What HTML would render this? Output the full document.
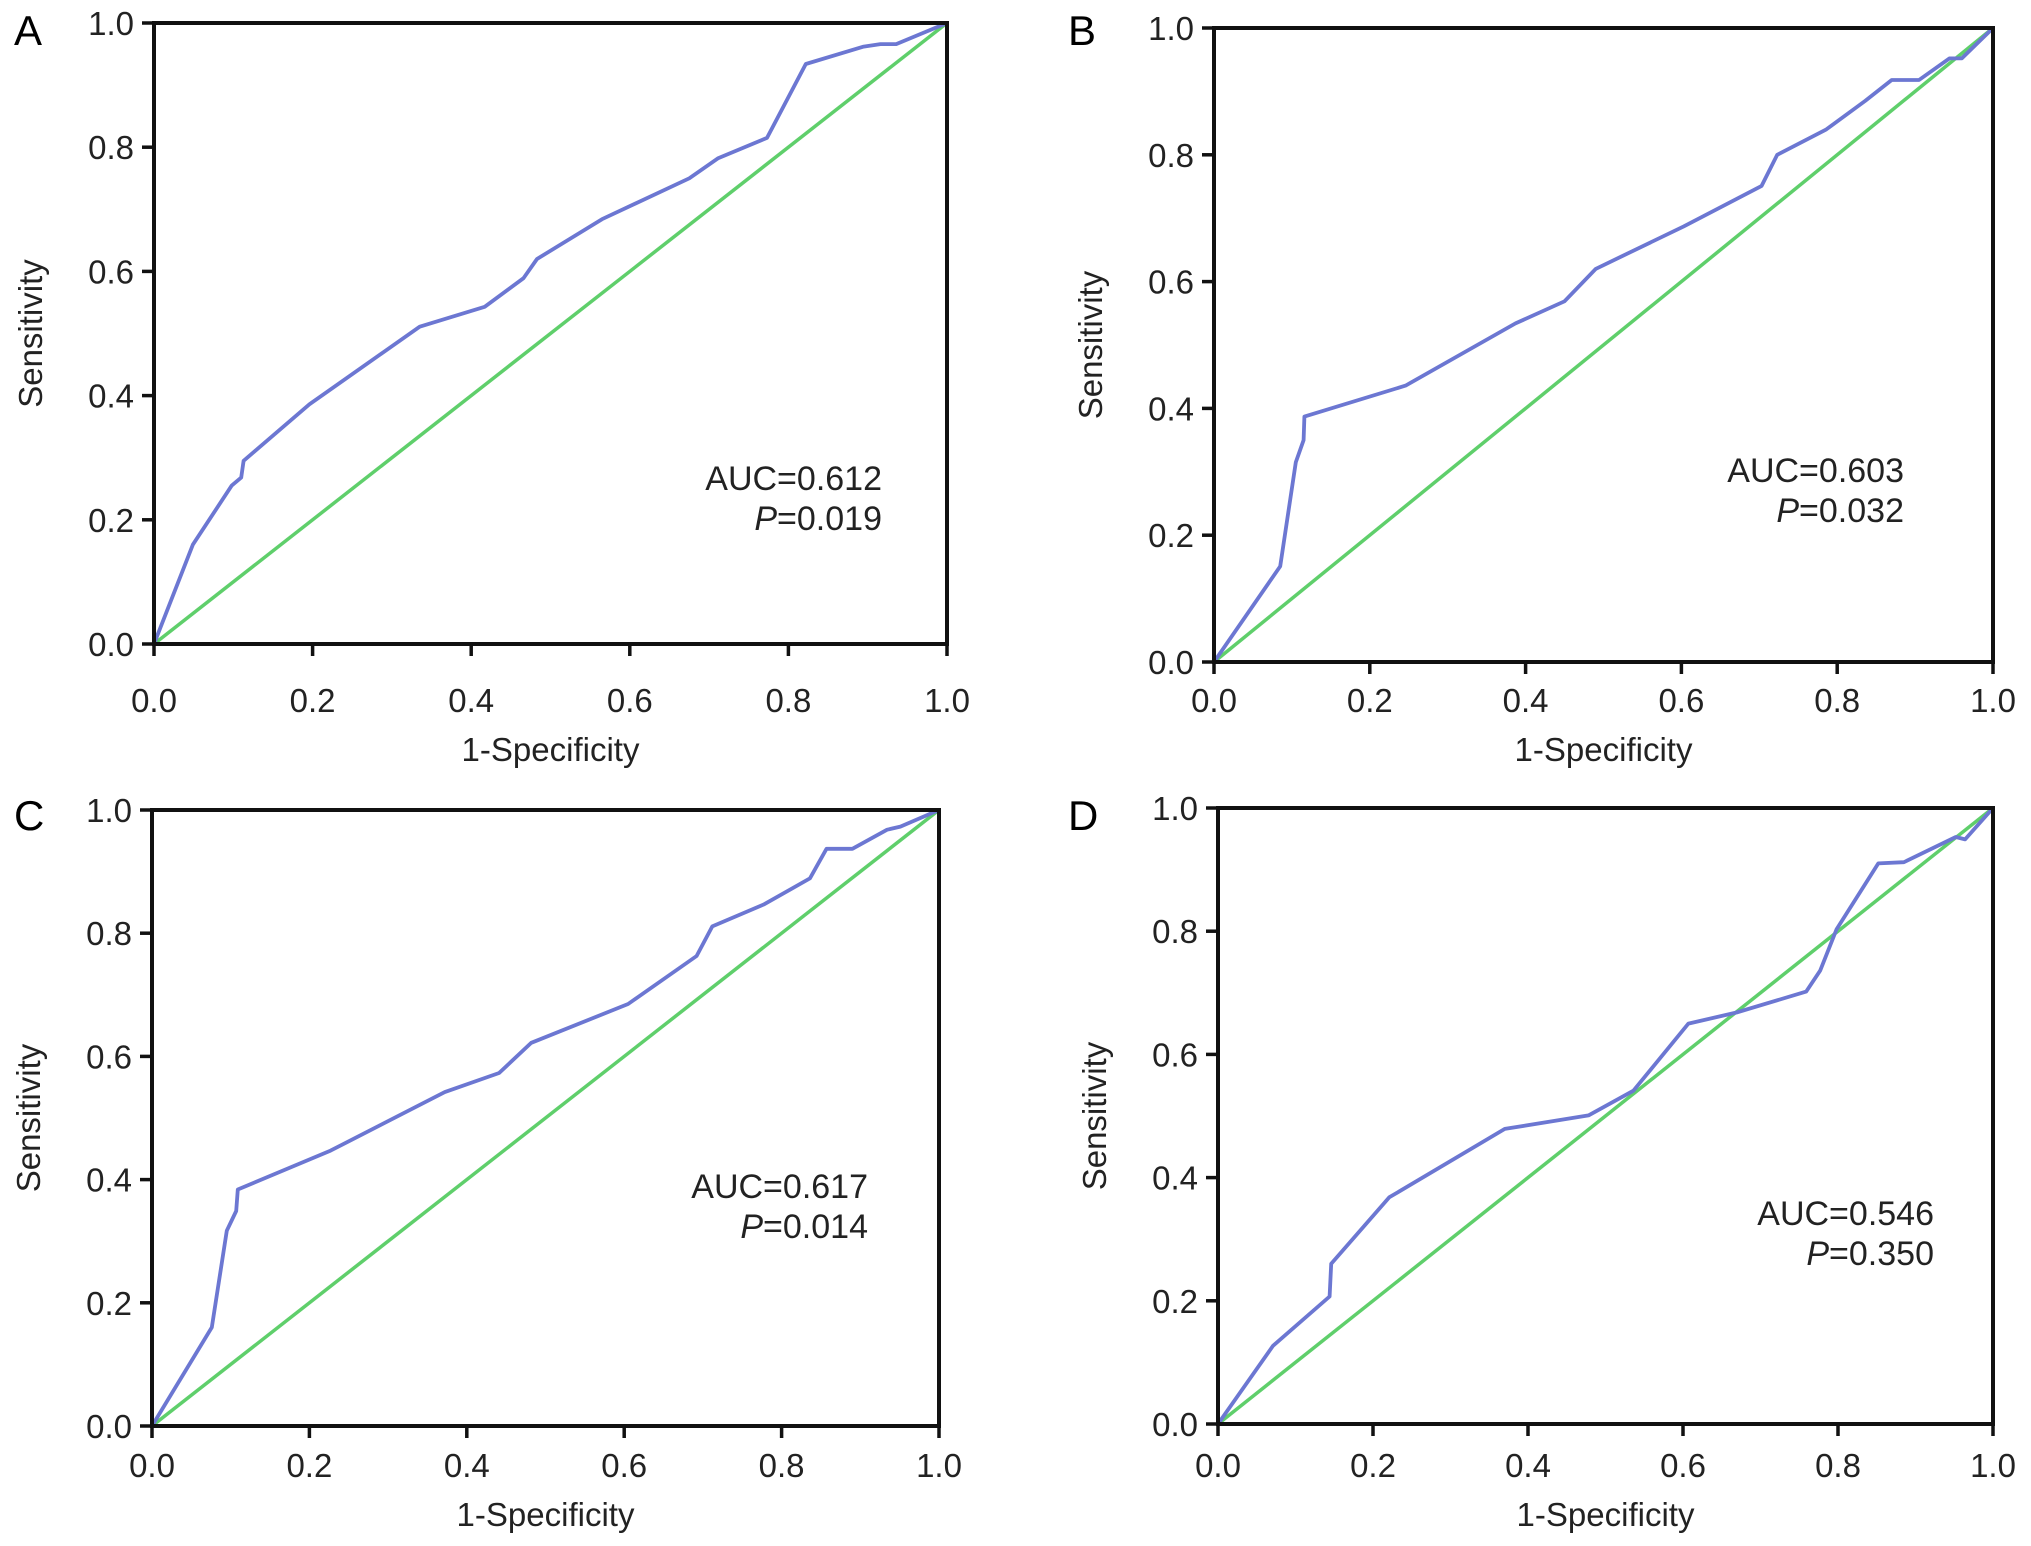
<!DOCTYPE html>
<html><head><meta charset="utf-8"><style>
html,body{margin:0;padding:0;background:#fff}
svg{display:block;font-family:"Liberation Sans",Arial,sans-serif}
</style></head><body>
<svg id="fig" width="2031" height="1546" viewBox="0 0 2031 1546"></svg>
<script>
const ticks=[0,0.2,0.4,0.6,0.8,1.0];
const tickLabels=["0.0","0.2","0.4","0.6","0.8","1.0"];
const fprA=[0,0.049,0.098,0.11,0.113,0.196,0.335,0.417,0.466,0.483,0.565,0.675,0.711,0.773,0.822,0.895,0.916,0.936,1];
const tprA=[0,0.16,0.255,0.268,0.295,0.386,0.511,0.543,0.589,0.62,0.684,0.75,0.782,0.815,0.934,0.962,0.966,0.966,1];
const fprB=[0,0.085,0.105,0.115,0.116,0.246,0.387,0.45,0.49,0.603,0.703,0.723,0.786,0.836,0.87,0.905,0.944,0.96,1];
const tprB=[0,0.151,0.315,0.35,0.387,0.436,0.534,0.569,0.62,0.687,0.751,0.8,0.84,0.885,0.918,0.918,0.952,0.952,1];
const fprC=[0,0.076,0.095,0.107,0.109,0.227,0.372,0.441,0.482,0.605,0.692,0.712,0.778,0.836,0.857,0.89,0.934,0.951,1];
const tprC=[0,0.16,0.317,0.349,0.384,0.447,0.542,0.573,0.622,0.685,0.763,0.811,0.847,0.889,0.937,0.937,0.968,0.973,1];
const fprD=[0,0.071,0.144,0.146,0.221,0.37,0.478,0.536,0.607,0.669,0.759,0.777,0.798,0.852,0.885,0.952,0.964,1];
const tprD=[0,0.127,0.207,0.26,0.368,0.479,0.501,0.541,0.65,0.668,0.702,0.736,0.803,0.91,0.912,0.953,0.949,1];
const aucLabels=["AUC=0.612","AUC=0.603","AUC=0.617","AUC=0.546"];
const pLabels=["=0.019","=0.032","=0.014","=0.350"];
const panelLetters=["A","B","C","D"];

const NS="http://www.w3.org/2000/svg";
const svg=document.getElementById('fig');
function mk(tag,attrs,parent){const e=document.createElementNS(NS,tag);for(const k in attrs)e.setAttribute(k,attrs[k]);(parent||svg).appendChild(e);return e;}
const panels=[
 {x0:154,x1:947,yt:23,yb:644,fpr:fprA,tpr:tprA,ax:882,ay:490,lx:14,ly:45,xd:68,td:117},
 {x0:1214,x1:1993,yt:28,yb:662,fpr:fprB,tpr:tprB,ax:1904,ay:482,lx:1068,ly:45,xd:50,td:99},
 {x0:152,x1:939,yt:810,yb:1426,fpr:fprC,tpr:tprC,ax:868,ay:1198,lx:14,ly:830,xd:51,td:100},
 {x0:1218,x1:1993,yt:808,yb:1424,fpr:fprD,tpr:tprD,ax:1934,ay:1225,lx:1068,ly:830,xd:53,td:102}
];
panels.forEach((p,i)=>{
  const g=mk('g',{});
  
  
  const sx=v=>p.x0+v*(p.x1-p.x0), sy=v=>p.yb-v*(p.yb-p.yt);
  const lt=mk('text',{x:p.lx,y:p.ly,'font-size':42},g);lt.textContent=panelLetters[i];
  
  
  const d=mk('line',{x1:sx(0),y1:sy(0),x2:sx(1),y2:sy(1),stroke:'#5fcf6b','stroke-width':3.5},g);
  
  
  const pts=p.fpr.map((f,k)=>sx(f).toFixed(1)+','+sy(p.tpr[k]).toFixed(1)).join(' ');
  const c=mk('polyline',{points:pts,fill:'none',stroke:'#6c77d2','stroke-width':3.8,'stroke-linejoin':'round'},g);
  
  
  const f=mk('rect',{x:p.x0,y:p.yt,width:p.x1-p.x0,height:p.yb-p.yt,fill:'none',stroke:'#111','stroke-width':4},g);
  
  
  ticks.forEach((t,k)=>{
    mk('line',{x1:sx(t),y1:p.yb,x2:sx(t),y2:p.yb+12,stroke:'#111','stroke-width':3.5},g);
    const xl=mk('text',{x:sx(t),y:p.yb+p.xd,'font-size':33,'text-anchor':'middle',fill:'#222'},g);xl.textContent=tickLabels[k];
    
    
    mk('line',{x1:p.x0-12,y1:sy(t),x2:p.x0,y2:sy(t),stroke:'#111','stroke-width':3.5},g);
    const yl=mk('text',{x:p.x0-20,y:sy(t)+12,'font-size':33,'text-anchor':'end',fill:'#222'},g);yl.textContent=tickLabels[k];
    
    
  });
  const xt=mk('text',{x:(p.x0+p.x1)/2,y:p.yb+p.td,'font-size':33,'text-anchor':'middle',fill:'#222'},g);xt.textContent='1-Specificity';
  
  
  const yx=p.x0-112, yy=(p.yt+p.yb)/2;
  const yt=mk('text',{x:yx,y:yy,'font-size':33,'text-anchor':'middle',fill:'#222',transform:`rotate(-90 ${yx} ${yy})`},g);yt.textContent='Sensitivity';
  
  
  const a=mk('text',{x:p.ax,y:p.ay,'font-size':34,'text-anchor':'end',fill:'#222'},g);a.textContent=aucLabels[i];
  
  
  const pl=mk('text',{x:p.ax,y:p.ay+40,'font-size':34,'text-anchor':'end',fill:'#222'},g);
  
  
  const ts=mk('tspan',{'font-style':'italic'},pl);ts.textContent='P';
  const ts2=mk('tspan',{},pl);ts2.textContent=pLabels[i];
});
</script>
</body></html>
